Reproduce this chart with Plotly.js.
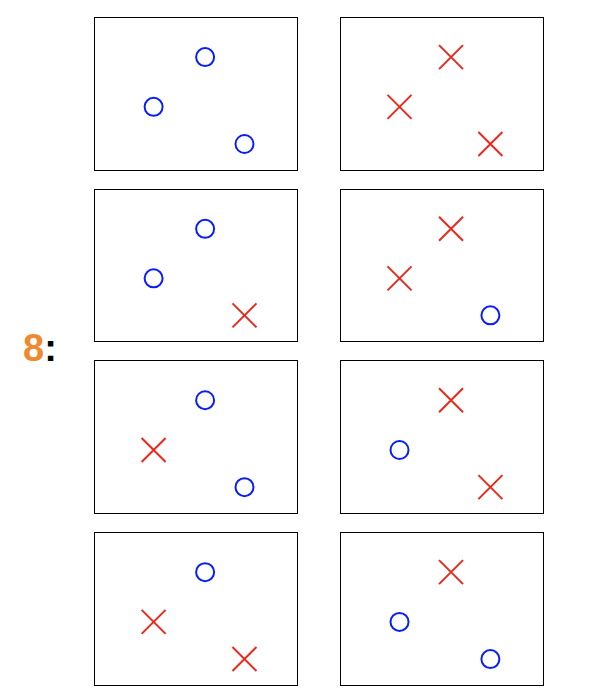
<!DOCTYPE html>
<html>
<head>
<meta charset="utf-8">
<script src="https://cdn.plot.ly/plotly-3.0.1.min.js"></script>
<style>html,body{margin:0;padding:0;background:#fff;}</style>
</head>
<body>
<div id="chart" style="width:594px;height:696px;"></div>
<script>
// point positions (top, left, bottom-right) shared by all panels
const pointX = [0.545, 0.29, 0.74];
const pointY = [0.743, 0.415, 0.17];
// labels per panel, row by row: 'o' = circle, 'x' = cross
const panelLabels = [
  ['o', 'o', 'o'], ['x', 'x', 'x'],
  ['o', 'o', 'x'], ['x', 'x', 'o'],
  ['o', 'x', 'o'], ['x', 'o', 'x'],
  ['o', 'x', 'x'], ['x', 'o', 'o']
];

const colDomains = [[0.16, 0.5], [0.574, 0.914]];
const rowDomains = [[0.756, 0.974], [0.510, 0.727], [0.263, 0.481], [0.016, 0.234]];

const traces = [];
const layout = {
  width: 594, height: 696,
  margin: { t: 0, b: 0, l: 0, r: 0 },
  paper_bgcolor: 'white', plot_bgcolor: 'white',
  showlegend: false,
  annotations: [{
    xref: 'paper', yref: 'paper', x: 0.035, y: 0.5, xanchor: 'left', yanchor: 'middle',
    text: "<b><span style='color:#f0892e'>8</span>:</b>",
    showarrow: false,
    font: { family: 'Liberation Sans, Arial, sans-serif', size: 38, color: '#000' }
  }]
};

panelLabels.forEach(function (labels, i) {
  const n = i + 1;
  const row = Math.floor(i / 2), col = i % 2;
  const xa = n === 1 ? 'xaxis' : 'xaxis' + n;
  const ya = n === 1 ? 'yaxis' : 'yaxis' + n;
  const axisCommon = {
    range: [0, 1], showgrid: false, zeroline: false, showticklabels: false, ticks: '',
    showline: true, mirror: true, linecolor: '#000', linewidth: 1, fixedrange: true
  };
  layout[xa] = { ...axisCommon, domain: colDomains[col], anchor: 'y' + n };
  layout[ya] = { ...axisCommon, domain: rowDomains[row], anchor: 'x' + n };

  ['o', 'x'].forEach(function (kind) {
    const xs = [], ys = [];
    labels.forEach(function (l, j) { if (l === kind) { xs.push(pointX[j]); ys.push(pointY[j]); } });
    if (!xs.length) return;
    traces.push({
      x: xs, y: ys, xaxis: 'x' + n, yaxis: 'y' + n,
      type: 'scatter', mode: 'markers', hoverinfo: 'skip',
      marker: kind === 'o'
        ? { symbol: 'circle-open', size: 18, line: { color: '#0a1ff5', width: 2 }, color: '#0a1ff5' }
        : { symbol: 'x-thin-open', size: 24, line: { color: '#e8291c', width: 2 }, color: '#e8291c' }
    });
  });
});

Plotly.newPlot('chart', traces, layout, { displayModeBar: false, staticPlot: true });
</script>
</body>
</html>
